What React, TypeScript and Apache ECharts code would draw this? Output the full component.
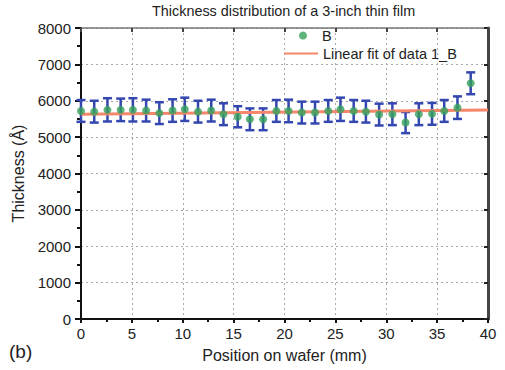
import React, { useEffect, useRef } from "react";
import * as echarts from "echarts";

const positions = [0, 1.3, 2.6, 3.9, 5.1, 6.4, 7.7, 9.0, 10.2, 11.5, 12.8, 14.0, 15.4, 16.6, 17.9, 19.2, 20.4, 21.7, 23.0, 24.3, 25.5, 26.8, 28.0, 29.3, 30.6, 31.9, 33.2, 34.5, 35.7, 37.0, 38.3];
const thickness = [5720, 5700, 5750, 5750, 5750, 5730, 5660, 5730, 5765, 5700, 5730, 5630, 5560, 5490, 5490, 5720, 5720, 5675, 5675, 5720, 5765, 5720, 5700, 5620, 5630, 5400, 5630, 5640, 5720, 5810, 6480];
const errors = [300, 300, 320, 310, 320, 300, 300, 310, 320, 300, 300, 300, 290, 300, 300, 300, 310, 300, 300, 300, 320, 300, 300, 300, 300, 290, 300, 300, 300, 310, 300];
const fitX = [0, 40];
const fitY = [5630, 5745];
const seriesName = "B";
const fitName = "Linear fit of data 1_B";
const panelLabel = "(b)";

export default function App() {
  const ref = useRef<HTMLDivElement>(null);
  useEffect(() => {
    const chart = echarts.init(ref.current!, null, { renderer: "svg" });
    const font = "'Liberation Sans', Arial, sans-serif";
    const pts = positions.map((x, i) => [x, thickness[i], errors[i]]);
    const gridLine = { show: true, lineStyle: { color: "#aaaaaa", type: [2, 3], width: 1 } };
    chart.setOption({
      animation: false,
      textStyle: { fontFamily: font },
      title: {
        text: "Thickness distribution of a 3-inch thin film",
        left: 152,
        top: 4,
        padding: 0,
        textStyle: { fontSize: 14.4, fontWeight: "normal", color: "#222", fontFamily: font },
      },
      grid: { left: 81, right: 17, top: 28, bottom: 51 },
      legend: [
        {
          data: [{ name: seriesName, icon: "circle" }],
          left: 299,
          top: 28,
          padding: 0,
          itemWidth: 8,
          itemHeight: 8,
          itemStyle: { borderWidth: 0 },
          textStyle: { fontSize: 14.5, lineHeight: 14, color: "#222", fontFamily: font, padding: [0, 0, 0, 10] },
        },
        {
          data: [{ name: fitName, icon: "rect" }],
          left: 284,
          top: 46,
          padding: 0,
          itemWidth: 34,
          itemHeight: 2,
          textStyle: { fontSize: 14.5, lineHeight: 14, color: "#222", fontFamily: font, padding: 0 },
        },
      ],
      graphic: [
        {
          type: "text",
          left: 9,
          top: 342,
          style: { text: panelLabel, fontSize: 19, fill: "#222", fontFamily: font },
        },
      ],
      xAxis: [
        {
          type: "value",
          min: 0,
          max: 40,
          interval: 5,
          position: "bottom",
          name: "Position on wafer (mm)",
          nameLocation: "middle",
          nameGap: 28,
          nameTextStyle: { fontSize: 16, color: "#222", fontFamily: font },
          axisLine: { show: true, onZero: false, lineStyle: { color: "#111", width: 2 } },
          axisTick: { show: true, inside: false, length: 4, lineStyle: { color: "#111", width: 2 } },
          minorTick: { show: true, splitNumber: 2, length: 3, lineStyle: { color: "#111", width: 2 } },
          axisLabel: { fontSize: 15, color: "#222", margin: 7, fontFamily: font },
          splitLine: gridLine,
        },
        {
          type: "value",
          min: 0,
          max: 40,
          interval: 5,
          position: "top",
          axisLine: { show: true, onZero: false, lineStyle: { color: "#777", width: 1.5 } },
          axisTick: { show: true, inside: true, length: 4, lineStyle: { color: "#444", width: 2 } },
          axisLabel: { show: false },
          splitLine: { show: false },
        },
      ],
      yAxis: [
        {
          type: "value",
          min: 0,
          max: 8000,
          interval: 1000,
          position: "left",
          name: "Thickness (Å)",
          nameLocation: "middle",
          nameGap: 51,
          nameTextStyle: { fontSize: 16, color: "#222", fontFamily: font },
          axisLine: { show: true, onZero: false, lineStyle: { color: "#111", width: 2 } },
          axisTick: { show: true, inside: false, length: 6, lineStyle: { color: "#111", width: 2 } },
          minorTick: { show: true, splitNumber: 2, length: 4, lineStyle: { color: "#111", width: 2 } },
          axisLabel: {
            fontSize: 15,
            color: "#222",
            margin: 10,
            fontFamily: font,
            formatter: (v: number) => String(v),
          },
          splitLine: gridLine,
        },
        {
          type: "value",
          min: 0,
          max: 8000,
          interval: 1000,
          position: "right",
          axisLine: { show: true, onZero: false, lineStyle: { color: "#444", width: 3 } },
          axisTick: { show: true, inside: true, length: 4, lineStyle: { color: "#222", width: 2 } },
          axisLabel: { show: false },
          splitLine: { show: false },
        },
      ],
      series: [
        {
          type: "custom",
          name: "errbars",
          data: pts,
          encode: { x: 0, y: 1 },
          z: 2,
          renderItem: (params: any, api: any) => {
            const x = api.value(0);
            const y = api.value(1);
            const e = api.value(2);
            const top = api.coord([x, y + e]);
            const bot = api.coord([x, y - e]);
            const cap = 4.5;
            const style = { stroke: "#3447b0", lineWidth: 2.5 };
            return {
              type: "group",
              children: [
                { type: "line", shape: { x1: top[0], y1: top[1], x2: bot[0], y2: bot[1] }, style },
                { type: "line", shape: { x1: top[0] - cap, y1: top[1], x2: top[0] + cap, y2: top[1] }, style },
                { type: "line", shape: { x1: bot[0] - cap, y1: bot[1], x2: bot[0] + cap, y2: bot[1] }, style },
              ],
            };
          },
        },
        {
          type: "line",
          name: fitName,
          data: fitX.map((x, i) => [x, fitY[i]]),
          showSymbol: false,
          symbol: "none",
          itemStyle: { color: "#f4876b" },
          lineStyle: { color: "#f4876b", width: 3 },
          z: 3,
        },
        {
          type: "scatter",
          name: seriesName,
          data: pts.map((p) => [p[0], p[1]]),
          symbolSize: 8,
          itemStyle: { color: "#34a05a" },
          z: 4,
        },
      ],
    });
    return () => chart.dispose();
  }, []);
  return (
    <div
      ref={ref}
      style={{ position: "fixed", left: 0, top: 0, width: 505, height: 370, background: "#fff" }}
    />
  );
}
